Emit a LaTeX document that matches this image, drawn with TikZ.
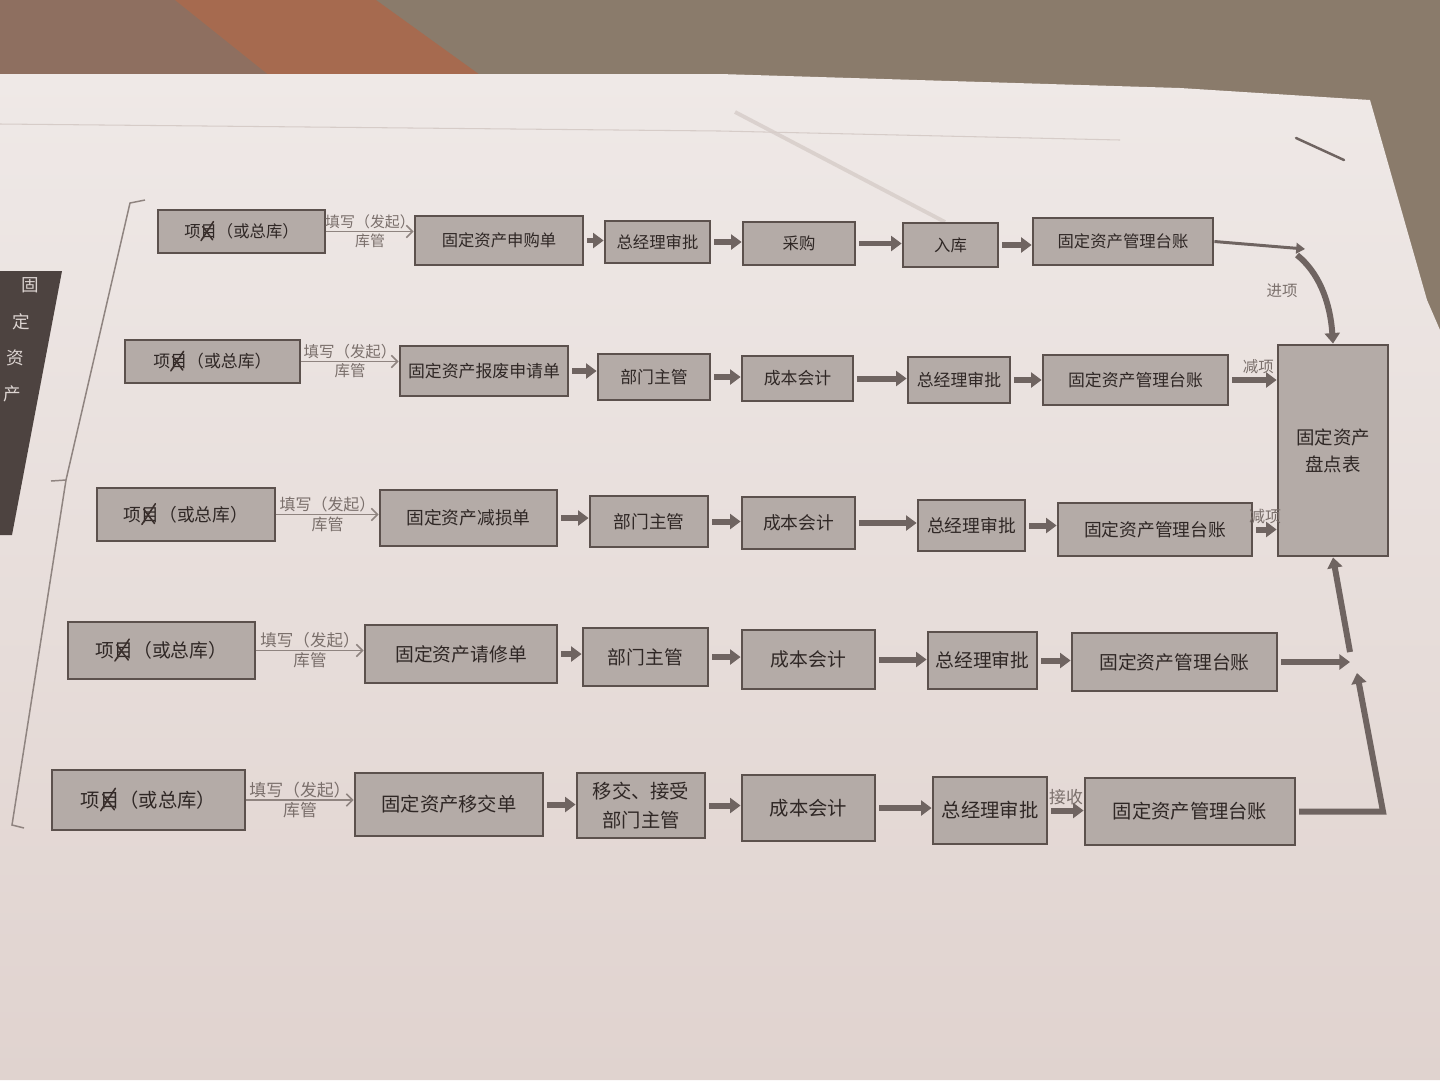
\documentclass[tikz,border=0pt]{standalone}
\usepackage{fontspec}
\setmainfont{Noto Sans CJK SC}
\usetikzlibrary{arrows.meta,calc}
\definecolor{fabric}{HTML}{8A7B6B}
\definecolor{fabricL}{HTML}{8E6F60}
\definecolor{fabricO}{HTML}{A66A4F}
\definecolor{paperT}{HTML}{EFE9E7}
\definecolor{paperB}{HTML}{E0D3CF}
\definecolor{boxfill}{HTML}{B4ABA7}
\definecolor{boxline}{HTML}{5C514D}
\definecolor{boxtext}{HTML}{2F2725}
\definecolor{arrowc}{HTML}{6F6461}
\definecolor{thinc}{HTML}{8F8480}
\definecolor{lblc}{HTML}{7A6F6B}
\definecolor{bandc}{HTML}{4D4340}
\definecolor{bandtext}{HTML}{DDD5D2}
\definecolor{inkc}{HTML}{3B302D}
\definecolor{creasec}{HTML}{D6CCC8}
\newcommand\mkbox[7]{\node[box,#7,minimum width={(#4-#2)*0.02cm},minimum height={(#5-#3)*0.02cm}] (#1) at ({(#2+#4)/2},{(#3+#5)/2}) {#6};}
\newcommand\crossat[2]{\begin{scope}[shift={(#1.center)}]
  \draw[xm] ({-2*#2-0.45*#2},{0.55*#2}) -- ({-2*#2+0.3*#2},{-0.6*#2});
  \draw[xm] ({-2*#2-0.35*#2},{-0.3*#2}) -- ({-2*#2+0.25*#2},{0.5*#2});
\end{scope}}
\begin{document}
\begin{tikzpicture}[x=0.02cm,y=-0.02cm,
  box/.style={draw=boxline,fill=boxfill,line width=1.6pt,inner sep=0pt,text=boxtext,align=center},
  r1/.style={font=\fontsize{9.3}{11}\selectfont},
  r2/.style={font=\fontsize{9.6}{11}\selectfont},
  r3/.style={font=\fontsize{10.1}{12}\selectfont},
  r4/.style={font=\fontsize{10.7}{12}\selectfont},
  r5/.style={font=\fontsize{11}{17}\selectfont},
  pdf/.style={font=\fontsize{10.5}{15.3}\selectfont},
  tk/.style={draw=arrowc,line width=3.4pt,-{Triangle[length=6pt,width=8.5pt]},shorten <=1.5pt},
  midarr/.style={draw=arrowc,line width=1.7pt,-{Triangle[length=5pt,width=6pt]}},
  thinarr/.style={draw=thinc,line width=0.9pt,-{Straight Barb[length=3.5pt,width=7pt]}},
  lbl/.style={text=lblc,inner sep=0.8pt},
  l1/.style={lbl,font=\fontsize{8.5}{10}\selectfont},
  l2/.style={lbl,font=\fontsize{8.8}{10}\selectfont},
  l3/.style={lbl,font=\fontsize{9.1}{10}\selectfont},
  l4/.style={lbl,font=\fontsize{9.4}{10}\selectfont},
  l5/.style={lbl,font=\fontsize{9.6}{10}\selectfont},
  xm/.style={draw=inkc,line width=0.9pt,line cap=round},
  bracec/.style={draw=thinc,line width=0.85pt}]
\useasboundingbox (0,0) rectangle (1440,1080);
% background: fabric and paper
\fill[fabric] (0,0) rectangle (1440,1080);
\fill[fabricL] (0,0) rectangle (175,80) -- (275,80) -- (175,0);
\fill[fabricO] (175,0) -- (376,0) -- (487,80) -- (275,80) -- cycle;
\shade[top color=paperT,bottom color=paperB] (0,74) -- (720,74) -- (1180,88) -- (1370,100) -- (1427,300) -- (1440,330) -- (1440,1080) -- (0,1080) -- cycle;
\draw[creasec,line width=0.6pt] (0,124) -- (720,131) -- (1120,140);
\draw[creasec,line width=2.2pt,opacity=0.8] (735,112) -- (945,222);
\draw[arrowc,line width=1.4pt,line cap=round] (1296,138) -- (1344,160);
% left dark band
\fill[bandc] (0,271) -- (62,271) -- (12,535) -- (0,535) -- cycle;
\begin{scope}[every node/.style={text=bandtext,font=\fontsize{10}{12}\selectfont,inner sep=0pt}]
\node (g1) at (30,285) {固};
\node (g2) at (21,322) {定};
\node (g3) at (15,358) {资};
\node (g4) at (12,394) {产};
\end{scope}
% brace
\draw[bracec] (145,200) -- (130,203) -- (66,480) -- (12,825) -- (24,828);
\draw[bracec] (66,480) -- (51,481);
% ---- row 1
\mkbox{A1}{158}{210}{325}{253}{项目（或总库）}{r1}
\mkbox{B1}{415}{216}{583}{265}{固定资产申购单}{r1}
\mkbox{C1}{605}{221}{710}{263}{总经理审批}{r1}
\mkbox{D1}{743}{222}{855}{265}{采购}{r1}
\mkbox{E1}{903}{223}{998}{267}{入库}{r1}
\mkbox{F1}{1033}{218}{1213}{265}{固定资产管理台账}{r1}
% ---- row 2
\mkbox{A2}{125}{340}{300}{383}{项目（或总库）}{r2}
\mkbox{B2}{400}{346}{568}{396}{固定资产报废申请单}{r2}
\mkbox{C2}{598}{354}{710}{400}{部门主管}{r2}
\mkbox{D2}{742}{356}{853}{401}{成本会计}{r2}
\mkbox{E2}{908}{357}{1010}{403}{总经理审批}{r2}
\mkbox{F2}{1043}{355}{1228}{405}{固定资产管理台账}{r2}
% ---- row 3
\mkbox{A3}{97}{488}{275}{541}{项目（或总库）}{r3}
\mkbox{B3}{380}{490}{557}{546}{固定资产减损单}{r3}
\mkbox{C3}{590}{496}{708}{547}{部门主管}{r3}
\mkbox{D3}{742}{497}{855}{549}{成本会计}{r3}
\mkbox{E3}{918}{500}{1025}{551}{总经理审批}{r3}
\mkbox{F3}{1058}{503}{1252}{556}{固定资产管理台账}{r3}
% ---- row 4
\mkbox{A4}{68}{622}{255}{679}{项目（或总库）}{r4}
\mkbox{B4}{365}{625}{557}{683}{固定资产请修单}{r4}
\mkbox{C4}{583}{628}{708}{686}{部门主管}{r4}
\mkbox{D4}{742}{630}{875}{689}{成本会计}{r4}
\mkbox{E4}{928}{632}{1037}{689}{总经理审批}{r4}
\mkbox{F4}{1072}{633}{1277}{691}{固定资产管理台账}{r4}
% ---- row 5
\mkbox{A5}{52}{770}{245}{830}{项目（或总库）}{r5}
\mkbox{B5}{355}{773}{543}{836}{固定资产移交单}{r5}
\mkbox{C5}{577}{773}{705}{838}{移交、接受\\部门主管}{r5}
\mkbox{D5}{742}{775}{875}{841}{成本会计}{r5}
\mkbox{E5}{933}{777}{1047}{844}{总经理审批}{r5}
\mkbox{F5}{1085}{778}{1295}{845}{固定资产管理台账}{r5}
% ---- inventory table
\mkbox{PD}{1278}{345}{1388}{556}{固定资产\\盘点表}{pdf}
% ink crosses
\crossat{A1}{16.5}
\crossat{A2}{17}
\crossat{A3}{18}
\crossat{A4}{19}
\crossat{A5}{19.5}
% thin arrows with labels
\draw[thinarr] (A1.east) -- (A1.east -| B1.west) node[midway,above,l1] (t1) {填写（发起）} node[midway,below,l1] (k1) {库管};
\draw[thinarr] (A2.east) -- (A2.east -| B2.west) node[midway,above,l2] (t2) {填写（发起）} node[midway,below,l2] (k2) {库管};
\draw[thinarr] (A3.east) -- (A3.east -| B3.west) node[midway,above,l3] (t3) {填写（发起）} node[midway,below,l3] (k3) {库管};
\draw[thinarr] (A4.east) -- (A4.east -| B4.west) node[midway,above,l4] (t4) {填写（发起）} node[midway,below,l4] (k4) {库管};
\draw[thinarr] (A5.east) -- (A5.east -| B5.west) node[midway,above,l5] (t5) {填写（发起）} node[midway,below,l5] (k5) {库管};
% thick arrows in rows
\foreach \r in {1,...,5}{
  \draw[tk] (B\r.east) -- (B\r.east -| C\r.west);
  \draw[tk] (C\r.east) -- (C\r.east -| D\r.west);
  \draw[tk] (D\r.east) -- (D\r.east -| E\r.west);
  \draw[tk] (E\r.east) -- (E\r.east -| F\r.west);
}
\path (E5.east) -- (E5.east -| F5.west) node[midway,above,l5,yshift=2pt] (rcv) {接收};
% right-hand connectors
\coordinate (j1) at (1305,249);
\coordinate (j1b) at (1297,255);
\coordinate (jn) at (1350,662);
\coordinate (ju) at (1350,652);
\coordinate (c5) at (1383,811);
\coordinate (c5t) at (1357,673);
\draw[midarr] (F1.east) -- (j1);
\draw[tk,shorten <=0pt] (j1b) .. controls (1318,272) and (1330,300) .. (PD.north);
\node[l2] (jx) at (1282,291) {进项};
\draw[tk] (F2.east) -- (F2.east -| PD.west) node[midway,above,l2,yshift=1pt,xshift=3pt] (m2) {减项};
\draw[tk] (F3.east) -- (F3.east -| PD.west) node[midway,above,l3,yshift=1pt] (m3) {减项};
\draw[tk] (F4.east) -- (F4.east -| jn);
\draw[tk,line join=miter] (F5.east) -- (F5.east -| c5) -- (c5t);
\draw[tk,shorten <=0pt] (ju) -- (PD.south);
\end{tikzpicture}
\end{document}
